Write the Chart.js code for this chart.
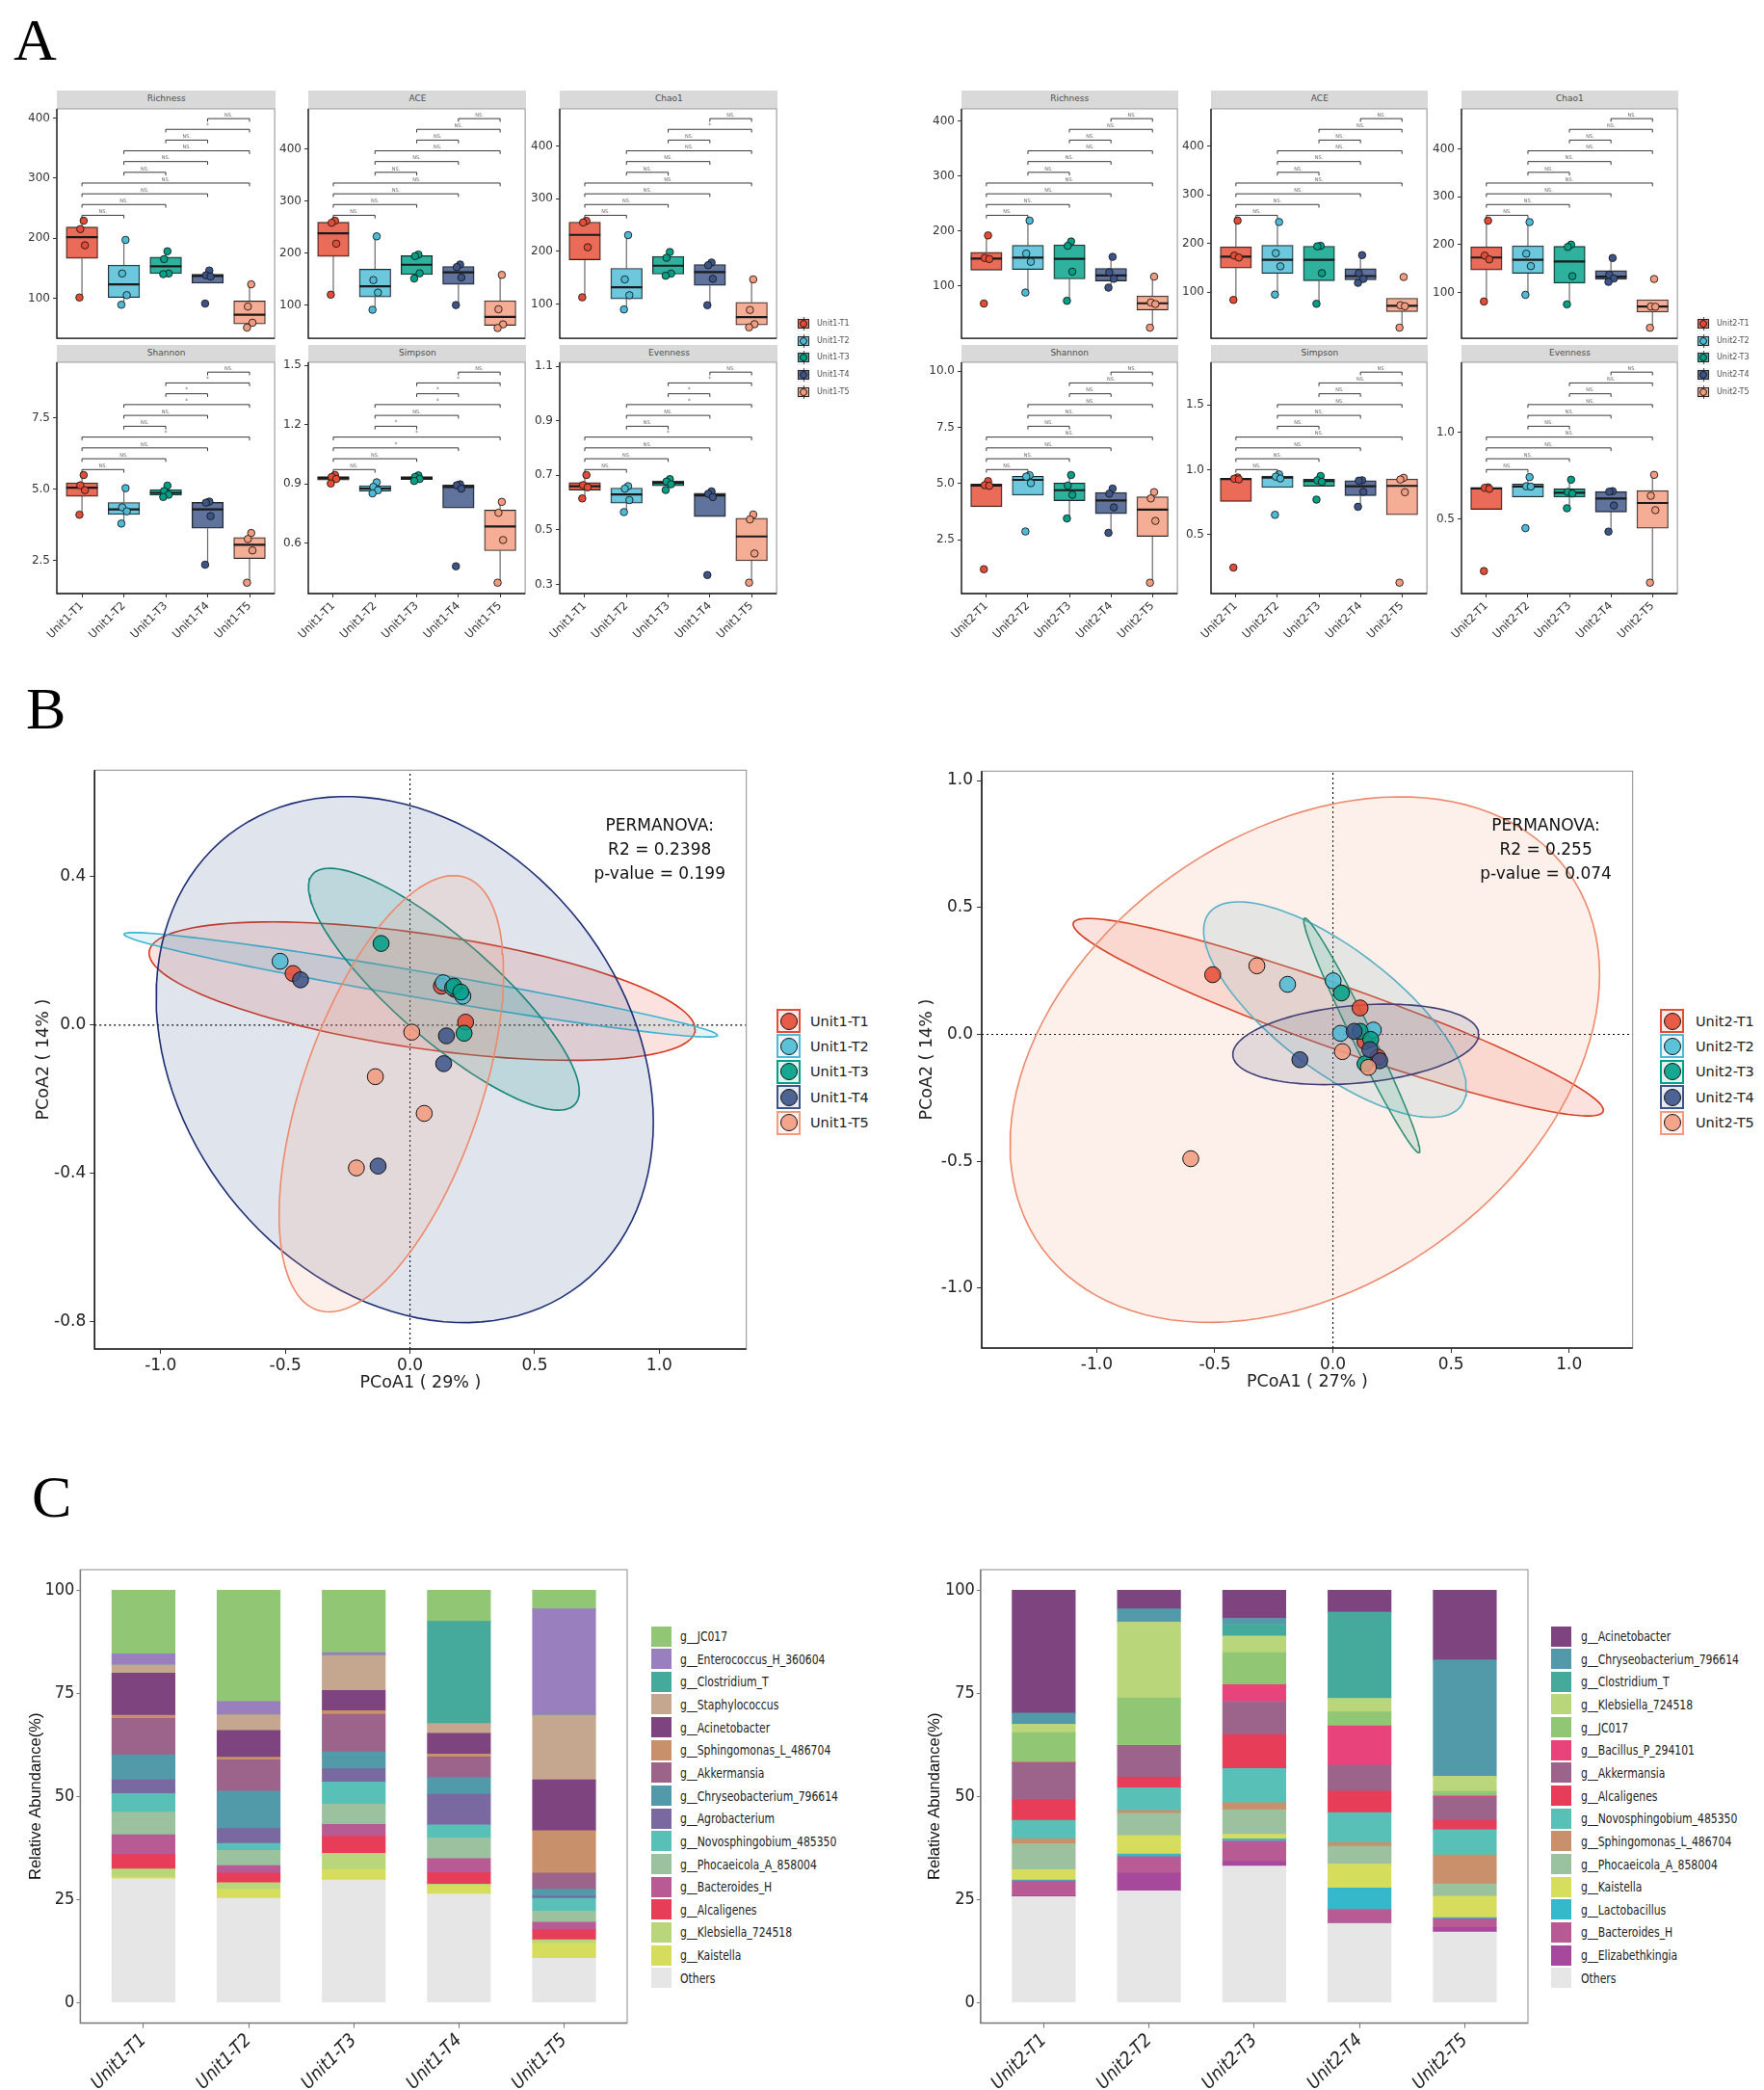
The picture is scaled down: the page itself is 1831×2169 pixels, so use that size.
<!DOCTYPE html>
<html>
<head>
<meta charset="utf-8">
<script src="https://cdn.jsdelivr.net/npm/chart.js@4.4.1/dist/chart.umd.min.js"></script>
<style>
  * { box-sizing: border-box; }
  body { margin: 0; background: #fff; }
  #page { position: relative; width: 1831px; height: 2169px; overflow: hidden; background: #fff; font-family: 'DejaVu Sans', sans-serif; }
  #page > * { position: absolute; }
  .strip { background: #D9D9D9; color: #4D4D4D; font-size: 9px; text-align: center; }
  .letter { font-family: 'Liberation Serif', 'Times New Roman', serif; font-size: 62px; line-height: 62px; color: #000; }
  .lbl { white-space: nowrap; }
</style>
</head>
<body>
<div id="page"></div>
<script>
// ---- data ----
const unit1Groups = ['Unit1-T1', 'Unit1-T2', 'Unit1-T3', 'Unit1-T4', 'Unit1-T5'];
const unit2Groups = ['Unit2-T1', 'Unit2-T2', 'Unit2-T3', 'Unit2-T4', 'Unit2-T5'];

// alpha diversity, 4 samples per group
const u1Richness = [[229, 215, 188, 101], [197, 141, 105, 89], [178, 165, 141, 140], [146, 138, 136, 91], [123, 86, 59, 51]];
const u1ACE = [[262, 258, 218, 120], [232, 148, 124, 91], [197, 194, 161, 151], [178, 173, 153, 100], [158, 92, 63, 56]];
const u1Chao1 = [[258, 255, 208, 113], [231, 147, 117, 90], [199, 188, 158, 154], [179, 174, 148, 98], [147, 89, 62, 56]];
const u1Shannon = [[5.49, 5.13, 4.96, 4.10], [5.03, 4.36, 4.22, 3.79], [5.12, 4.93, 4.80, 4.72], [4.56, 4.52, 4.05, 2.35], [3.46, 3.25, 2.85, 1.72]];
const u1Simpson = [[0.945, 0.935, 0.925, 0.902], [0.908, 0.885, 0.868, 0.852], [0.943, 0.935, 0.925, 0.915], [0.898, 0.893, 0.876, 0.483], [0.809, 0.754, 0.616, 0.40]];
const u1Evenness = [[0.701, 0.664, 0.656, 0.615], [0.66, 0.651, 0.609, 0.565], [0.686, 0.677, 0.667, 0.646], [0.641, 0.632, 0.62, 0.334], [0.556, 0.538, 0.413, 0.306]];

const u2Richness = [[192, 151, 149, 68], [219, 159, 144, 88], [181, 173, 126, 73], [153, 125, 113, 97], [117, 70, 67, 24]];
const u2ACE = [[247, 175, 171, 84], [244, 180, 153, 95], [195, 194, 139, 76], [176, 139, 127, 119], [131, 73, 71, 27]];
const u2Chao1 = [[250, 177, 169, 81], [247, 181, 155, 95], [200, 195, 134, 75], [172, 137, 129, 122], [128, 70.5, 70, 26]];
const u2Shannon = [[5.11, 4.93, 4.90, 1.19], [5.37, 5.31, 5.02, 2.87], [5.38, 4.91, 4.50, 3.45], [4.78, 4.55, 3.94, 2.81], [4.62, 4.34, 3.34, 0.59]];
const u2Simpson = [[0.94, 0.93, 0.925, 0.245], [0.964, 0.946, 0.932, 0.652], [0.951, 0.918, 0.906, 0.769], [0.918, 0.915, 0.829, 0.714], [0.937, 0.924, 0.826, 0.129]];
const u2Evenness = [[0.684, 0.681, 0.675, 0.20], [0.743, 0.69, 0.688, 0.448], [0.728, 0.657, 0.648, 0.563], [0.662, 0.659, 0.579, 0.428], [0.756, 0.635, 0.552, 0.133]];

// pairwise test labels, order: 1-2,1-3,1-4,1-5,2-3,2-4,2-5,3-4,3-5,4-5
const PAIRS = [[1, 2], [1, 3], [1, 4], [1, 5], [2, 3], [2, 4], [2, 5], [3, 4], [3, 5], [4, 5]];
const sigAllNS = ['NS.', 'NS.', 'NS.', 'NS.', 'NS.', 'NS.', 'NS.', 'NS.', 'NS.', 'NS.'];
const sigU1Richness = ['NS.', 'NS.', 'NS.', 'NS.', 'NS.', 'NS.', 'NS.', 'NS.', '*', 'NS.'];
const sigU1Chao1 = ['NS.', 'NS.', 'NS.', 'NS.', 'NS.', 'NS.', 'NS.', 'NS.', '*', 'NS.'];
const sigU1Shannon = ['NS.', 'NS.', 'NS.', '*', 'NS.', 'NS.', '*', '*', '*', 'NS.'];
const sigU1Simpson = ['NS.', 'NS.', '*', '*', '*', 'NS.', '*', '*', '*', 'NS.'];
const sigU1Evenness = ['NS.', 'NS.', 'NS.', '*', 'NS.', 'NS.', '*', '*', '*', 'NS.'];

// PCoA coordinates per group
const pcoa1X = [[-0.469, 0.223, 0.126, 0.18], [-0.521, 0.133, 0.171, 0.212], [-0.116, 0.176, 0.204, 0.217], [-0.439, 0.146, 0.135, -0.128], [0.007, -0.139, 0.057, -0.215]];
const pcoa1Y = [[0.139, 0.008, 0.105, 0.096], [0.172, 0.114, 0.101, 0.078], [0.22, 0.105, 0.089, -0.022], [0.122, -0.029, -0.104, -0.38], [-0.019, -0.139, -0.238, -0.385]];
const pcoa2X = [[-0.509, 0.115, 0.136, 0.19], [-0.192, 0.001, 0.032, 0.171], [0.036, 0.115, 0.136, 0.16], [0.09, 0.156, -0.14, 0.198], [-0.322, 0.04, 0.15, -0.602]];
const pcoa2Y = [[0.235, 0.104, -0.028, -0.09], [0.197, 0.211, 0.004, 0.017], [0.163, 0.012, -0.116, -0.02], [0.012, -0.06, -0.1, -0.104], [0.27, -0.068, -0.13, -0.49]];
// confidence ellipses: centre x, centre y, x half-extent, y half-extent, correlation
const ellipse1 = [[0.0485, 0.0915, 1.095, 0.1865, -0.55], [0.043, 0.1087, 1.19, 0.1407, -0.967], [0.136, 0.0967, 0.543, 0.326, -0.845], [-0.021, -0.093, 0.997, 0.709, -0.238], [-0.075, -0.185, 0.45, 0.588, 0.556]];
const ellipse2 = [[0.0225, 0.0675, 1.1225, 0.389, -0.942], [0.0085, 0.0975, 0.556, 0.4245, -0.733], [0.122, -0.004, 0.2456, 0.462, -0.981], [0.0965, -0.0395, 0.5205, 0.1585, 0.25], [-0.119, -0.0995, 1.248, 1.0355, 0.324]];

// relative abundance (%), legend order, columns T1..T5
const taxa1 = ['g__JC017', 'g__Enterococcus_H_360604', 'g__Clostridium_T', 'g__Staphylococcus', 'g__Acinetobacter', 'g__Sphingomonas_L_486704', 'g__Akkermansia', 'g__Chryseobacterium_796614', 'g__Agrobacterium', 'g__Novosphingobium_485350', 'g__Phocaeicola_A_858004', 'g__Bacteroides_H', 'g__Alcaligenes', 'g__Klebsiella_724518', 'g__Kaistella', 'Others'];
const abund1 = [
  [15.4, 27.0, 15.1, 7.5, 4.5],
  [2.7, 3.2, 0.7, 0, 25.8],
  [0, 0, 0, 24.8, 0],
  [2.0, 3.8, 8.5, 2.4, 15.7],
  [10.2, 6.5, 4.9, 5.0, 12.3],
  [0.8, 0.6, 0.9, 0.7, 10.3],
  [8.8, 7.6, 9.1, 5.0, 3.9],
  [6.1, 9.1, 4.1, 4.1, 1.7],
  [3.3, 3.6, 3.2, 7.4, 0.5],
  [4.5, 1.7, 5.4, 3.2, 3.1],
  [5.5, 3.7, 4.9, 5.0, 2.7],
  [4.8, 1.8, 2.9, 3.4, 1.9],
  [3.5, 2.3, 4.1, 2.8, 2.4],
  [1.9, 1.6, 4.0, 0.3, 0.8],
  [0.5, 2.2, 2.5, 2.1, 3.7],
  [30.0, 25.3, 29.7, 26.3, 10.7]
];
const taxa2 = ['g__Acinetobacter', 'g__Chryseobacterium_796614', 'g__Clostridium_T', 'g__Klebsiella_724518', 'g__JC017', 'g__Bacillus_P_294101', 'g__Akkermansia', 'g__Alcaligenes', 'g__Novosphingobium_485350', 'g__Sphingomonas_L_486704', 'g__Phocaeicola_A_858004', 'g__Kaistella', 'g__Lactobacillus', 'g__Bacteroides_H', 'g__Elizabethkingia', 'Others'];
const abund2 = [
  [29.8, 4.5, 6.8, 5.3, 16.9],
  [2.7, 3.2, 1.4, 0, 28.2],
  [0, 0, 2.9, 20.9, 0],
  [2.0, 18.4, 4.0, 3.3, 3.7],
  [7.2, 11.5, 7.8, 3.4, 1.1],
  [0.2, 0, 4.0, 9.5, 0.3],
  [8.9, 7.8, 8.1, 6.3, 5.6],
  [5.0, 2.5, 8.2, 5.2, 2.3],
  [4.5, 5.5, 8.3, 7.3, 6.1],
  [1.2, 0.7, 1.7, 0.9, 7.0],
  [6.3, 5.4, 6.0, 4.3, 3.0],
  [2.5, 4.5, 1.1, 5.8, 5.2],
  [0.2, 0.6, 0.5, 5.2, 0.3],
  [3.6, 4.0, 5.0, 3.2, 2.1],
  [0.2, 4.3, 1.1, 0.2, 1.1],
  [25.7, 27.1, 33.1, 19.2, 17.1]
];

// ---- styles ----
const PAL = ['#E64B35', '#4DBBD5', '#00A087', '#3C5488', '#F39B7F'];
const ELL_LINE = ['#D63A1F', '#3DB5D2', '#0E8E76', '#1F2F75', '#EE8A6C'];
const TAXA_COL = {
  'g__JC017': '#90C674', 'g__Enterococcus_H_360604': '#9A7FBF', 'g__Clostridium_T': '#45A99C',
  'g__Staphylococcus': '#C5A68F', 'g__Acinetobacter': '#7E4480', 'g__Sphingomonas_L_486704': '#C9916B',
  'g__Akkermansia': '#9C648B', 'g__Chryseobacterium_796614': '#5299A9', 'g__Agrobacterium': '#7A68A0',
  'g__Novosphingobium_485350': '#58C0B6', 'g__Phocaeicola_A_858004': '#9CC19E', 'g__Bacteroides_H': '#B85A93',
  'g__Alcaligenes': '#E73D58', 'g__Klebsiella_724518': '#B9D77A', 'g__Kaistella': '#D6DC5C',
  'g__Bacillus_P_294101': '#E8437B', 'g__Lactobacillus': '#35B8C9', 'g__Elizabethkingia': '#A6489B',
  'Others': '#E6E6E6'
};
const JIT = [0.04, -0.04, 0.07, -0.06];
const NARROW = "'Liberation Sans Narrow', 'DejaVu Sans Condensed', 'Liberation Sans', sans-serif";
const ROWS = [{ strip: [94.3, 111.7], top: 111.7, bottom: 351.7 }, { strip: [358.3, 375], top: 375, bottom: 615.7 }];

Chart.defaults.font.family = "'DejaVu Sans', sans-serif";
Chart.defaults.animation = false;
Chart.defaults.responsive = false;
Chart.defaults.plugins.legend.display = false;
Chart.defaults.plugins.tooltip.enabled = false;

const page = document.getElementById('page');
const px = v => v + 'px';
function el(tag, cls, css, text) {
  const e = document.createElement(tag);
  if (cls) e.className = cls;
  Object.assign(e.style, css);
  if (text !== undefined) e.textContent = text;
  page.appendChild(e);
  return e;
}
function rgba(hex, a) {
  const n = parseInt(hex.slice(1), 16);
  return `rgba(${n >> 16},${(n >> 8) & 255},${n & 255},${a})`;
}
function makeCanvas(left, top, w, h) {
  const c = el('canvas', '', { left: px(left), top: px(top) });
  c.width = Math.round(w);
  c.height = Math.round(h);
  return c;
}
function q7(s, p) {
  const h = (s.length - 1) * p, i = Math.floor(h);
  return s[i] + (h - i) * (s[Math.min(i + 1, s.length - 1)] - s[i]);
}
function boxStats(v) {
  const s = [...v].sort((a, b) => a - b);
  const q1 = q7(s, 0.25), med = q7(s, 0.5), q3 = q7(s, 0.75), iqr = q3 - q1;
  const inside = s.filter(x => x >= q1 - 1.5 * iqr && x <= q3 + 1.5 * iqr);
  return { q1, med, q3, lo: Math.min(...inside), hi: Math.max(...inside) };
}
const fixTicks = vals => scale => { scale.ticks = vals.map(v => ({ value: v })); };

// legend text in panel C is a condensed face; squeeze it if no narrow font is installed
const measure = document.createElement('canvas').getContext('2d');
measure.font = '14px ' + NARROW;
const narrowScale = Math.min(1, 164 / measure.measureText('g__Chryseobacterium_796614').width);

const frame = (axisCol, edgeCol, w) => ({
  id: 'frame',
  afterDatasetsDraw(chart) {
    const { ctx, chartArea: a } = chart;
    ctx.save();
    ctx.lineWidth = 1;
    ctx.strokeStyle = edgeCol;
    ctx.strokeRect(a.left, a.top, a.right - a.left, a.bottom - a.top);
    ctx.strokeStyle = axisCol;
    ctx.lineWidth = w;
    ctx.beginPath();
    ctx.moveTo(a.left, a.top);
    ctx.lineTo(a.left, a.bottom);
    ctx.lineTo(a.right, a.bottom);
    ctx.stroke();
    ctx.restore();
  }
});

const brackets = sig => ({
  id: 'brackets',
  afterDatasetsDraw(chart) {
    const { ctx, chartArea: a, scales: { x } } = chart;
    const h = a.bottom - a.top;
    ctx.save();
    ctx.strokeStyle = '#222';
    ctx.lineWidth = 0.9;
    ctx.fillStyle = '#666';
    ctx.textAlign = 'center';
    PAIRS.forEach(([i, j], k) => {
      const y = a.bottom - h * (0.536 + 0.0468 * k);
      const xa = x.getPixelForValue(i), xb = x.getPixelForValue(j);
      ctx.beginPath();
      ctx.moveTo(xa, y + 3.3); ctx.lineTo(xa, y); ctx.lineTo(xb, y); ctx.lineTo(xb, y + 3.3);
      ctx.stroke();
      ctx.font = sig[k] === '*' ? "6px 'DejaVu Sans'" : "5px 'DejaVu Sans'";
      ctx.fillText(sig[k], (xa + xb) / 2, y - 2.2);
    });
    ctx.restore();
  }
});

// ---- panel A: boxplots ----
function boxFacet(x0, x1, row, title, groups, vals, yMin, yMax, yTicks, dec, sig) {
  const R = ROWS[row];
  const L = 44, RR = 4, T = 4, B = row ? 62 : 4;
  el('div', 'strip', { left: px(x0), top: px(R.strip[0]), width: px(x1 - x0), height: px(R.strip[1] - R.strip[0]), lineHeight: px(R.strip[1] - R.strip[0]) }, title);
  const cv = makeCanvas(x0 - L, R.top - T, x1 - x0 + L + RR, R.bottom - R.top + T + B);
  const unit = (x1 - x0) / 5.2;
  const st = vals.map(boxStats);
  const whisk = [], med = [], pts = [], ptCol = [];
  st.forEach((s, i) => {
    const x = i + 1;
    whisk.push({ x, y: Math.max(s.hi, s.q3) }, { x, y: s.q3 }, { x, y: null }, { x, y: Math.min(s.lo, s.q1) }, { x, y: s.q1 }, { x, y: null });
    med.push({ x: x - 0.375, y: s.med }, { x: x + 0.375, y: s.med }, { x: x + 0.375, y: null });
  });
  vals.forEach((arr, i) => arr.forEach((v, j) => { pts.push({ x: i + 1 + JIT[j], y: v }); ptCol.push(PAL[i]); }));
  new Chart(cv, {
    type: 'bar',
    data: {
      datasets: [
        { type: 'line', data: whisk, borderColor: '#6b6b6b', borderWidth: 1.2, pointRadius: 0, order: 4 },
        { type: 'bar', data: st.map((s, i) => ({ x: i + 1, y: [s.q1, s.q3] })), backgroundColor: PAL.map(c => rgba(c, 0.82)), borderColor: '#262626', borderWidth: 1, borderSkipped: false, barThickness: unit * 0.75, order: 3 },
        { type: 'line', data: med, borderColor: '#1a1a1a', borderWidth: 2.2, pointRadius: 0, order: 2 },
        { type: 'line', data: pts, showLine: false, pointRadius: 3.8, pointBackgroundColor: ptCol, pointBorderColor: '#1a1a1a', pointBorderWidth: 0.9, order: 1 }
      ]
    },
    options: {
      layout: { padding: { left: 0, top: T, right: RR, bottom: 0 } },
      scales: {
        x: {
          type: 'linear', min: 0.4, max: 5.6, offset: false,
          afterBuildTicks: fixTicks([1, 2, 3, 4, 5]),
          ticks: { display: row === 1, autoSkip: false, minRotation: 45, maxRotation: 45, padding: 2, color: '#333', font: { size: 11.5 }, callback: v => groups[v - 1] },
          grid: { display: row === 1, drawOnChartArea: false, tickLength: 4, color: '#333', offset: false },
          border: { display: false },
          afterFit: s => { s.height = B; s.paddingLeft = 0; s.paddingRight = 0; }
        },
        y: {
          min: yMin, max: yMax,
          afterBuildTicks: fixTicks(yTicks),
          ticks: { padding: 3, color: '#333', font: { size: 12 }, callback: v => v.toFixed(dec) },
          grid: { drawOnChartArea: false, tickLength: 4, color: '#333' },
          border: { display: false },
          afterFit: s => { s.width = L; s.paddingTop = 0; s.paddingBottom = 0; }
        }
      }
    },
    plugins: [frame('#1a1a1a', '#8c8c8c', 1.3), brackets(sig)]
  });
}

function legendA(xKey, xText, groups) {
  groups.forEach((g, i) => {
    const cy = 336 + i * 17.7;
    el('div', '', { left: px(xKey - 7), top: px(cy - 7.5), width: '14px', height: '15px', background: '#F2F2F2' });
    el('div', '', { left: px(xKey - 0.5), top: px(cy - 7), width: '1px', height: '14px', background: '#555' });
    el('div', '', { left: px(xKey - 6), top: px(cy - 5), width: '12px', height: '10px', background: rgba(PAL[i], 0.82), border: '1px solid #262626' });
    el('div', '', { left: px(xKey - 4), top: px(cy - 4), width: '8px', height: '8px', borderRadius: '50%', background: PAL[i], border: '1px solid #1a1a1a' });
    el('div', 'lbl', { left: px(xText), top: px(cy - 6), fontSize: '8px', lineHeight: '12px', color: '#4D4D4D' }, g);
  });
}

const U1C = [[59.3, 286], [320.4, 546.4], [581.4, 807.5]];
const U2C = [[997.7, 1222.7], [1257.4, 1482.3], [1516.8, 1742]];
const T100 = [100, 200, 300, 400];
boxFacet(U1C[0][0], U1C[0][1], 0, 'Richness', unit1Groups, u1Richness, 33.1, 415.4, T100, 0, sigU1Richness);
boxFacet(U1C[1][0], U1C[1][1], 0, 'ACE', unit1Groups, u1ACE, 36.2, 477, T100, 0, sigAllNS);
boxFacet(U1C[2][0], U1C[2][1], 0, 'Chao1', unit1Groups, u1Chao1, 35.2, 470.8, T100, 0, sigU1Chao1);
boxFacet(U1C[0][0], U1C[0][1], 1, 'Shannon', unit1Groups, u1Shannon, 1.34, 9.44, [2.5, 5.0, 7.5], 1, sigU1Shannon);
boxFacet(U1C[1][0], U1C[1][1], 1, 'Simpson', unit1Groups, u1Simpson, 0.345, 1.516, [0.6, 0.9, 1.2, 1.5], 1, sigU1Simpson);
boxFacet(U1C[2][0], U1C[2][1], 1, 'Evenness', unit1Groups, u1Evenness, 0.266, 1.115, [0.3, 0.5, 0.7, 0.9, 1.1], 1, sigU1Evenness);
boxFacet(U2C[0][0], U2C[0][1], 0, 'Richness', unit2Groups, u2Richness, 4.7, 422.6, T100, 0, sigAllNS);
boxFacet(U2C[1][0], U2C[1][1], 0, 'ACE', unit2Groups, u2ACE, 5.1, 476.6, T100, 0, sigAllNS);
boxFacet(U2C[2][0], U2C[2][1], 0, 'Chao1', unit2Groups, u2Chao1, 4, 484, T100, 0, sigAllNS);
boxFacet(U2C[0][0], U2C[0][1], 1, 'Shannon', unit2Groups, u2Shannon, 0.107, 10.4, [2.5, 5.0, 7.5, 10.0], 1, sigAllNS);
boxFacet(U2C[1][0], U2C[1][1], 1, 'Simpson', unit2Groups, u2Simpson, 0.045, 1.828, [0.5, 1.0, 1.5], 1, sigAllNS);
boxFacet(U2C[2][0], U2C[2][1], 1, 'Evenness', unit2Groups, u2Evenness, 0.07, 1.407, [0.5, 1.0], 1, sigAllNS);
legendA(834, 848, unit1Groups);
legendA(1768, 1782, unit2Groups);

// ---- panel B: PCoA ----
function ellipsePoints(e) {
  const [cx, cy, ex, ey, r] = e, s = Math.sqrt(1 - r * r), out = [];
  for (let k = 0; k <= 120; k++) {
    const t = k / 120 * 2 * Math.PI;
    out.push({ x: cx + ex * Math.cos(t), y: cy + ey * (r * Math.cos(t) + s * Math.sin(t)) });
  }
  return out;
}
function pcoaChart(o) {
  const T = 8, RR = 6, B = 52;
  const cv = makeCanvas(o.x0 - o.L, o.y0 - T, o.x1 - o.x0 + o.L + RR, o.y1 - o.y0 + T + B);
  const ds = [
    { data: [{ x: o.xMin, y: 0 }, { x: o.xMax, y: 0 }], showLine: true, borderColor: '#000', borderWidth: 1.1, borderDash: [2, 3], pointRadius: 0, order: 30 },
    { data: [{ x: 0, y: o.yMin }, { x: 0, y: o.yMax }], showLine: true, borderColor: '#000', borderWidth: 1.1, borderDash: [2, 3], pointRadius: 0, order: 30 }
  ];
  o.ells.forEach((e, i) => ds.push({ data: ellipsePoints(e), showLine: true, fill: 'shape', backgroundColor: rgba(PAL[i], 0.16), borderColor: ELL_LINE[i], borderWidth: 1.6, pointRadius: 0, order: 20 - i }));
  o.xs.forEach((xs, i) => ds.push({ data: xs.map((x, j) => ({ x, y: o.ys[i][j] })), showLine: false, pointRadius: 8.3, pointBackgroundColor: rgba(PAL[i], 0.85), pointBorderColor: '#111', pointBorderWidth: 1, order: 5 - i }));
  new Chart(cv, {
    type: 'scatter',
    data: { datasets: ds },
    options: {
      layout: { padding: { left: 0, top: T, right: RR, bottom: 0 } },
      scales: {
        x: {
          type: 'linear', min: o.xMin, max: o.xMax,
          afterBuildTicks: fixTicks([-1, -0.5, 0, 0.5, 1]),
          ticks: { padding: 2, color: '#222', font: { size: 17 }, callback: v => v.toFixed(1) },
          grid: { drawOnChartArea: false, tickLength: 5, color: '#333' },
          border: { display: false },
          title: { display: true, text: o.xTitle, color: '#222', font: { size: 17.5 }, padding: { top: 0, bottom: 5.8 } },
          afterFit: s => { s.height = B; s.paddingLeft = 0; s.paddingRight = 0; }
        },
        y: {
          min: o.yMin, max: o.yMax,
          afterBuildTicks: fixTicks(o.yTicks),
          ticks: { padding: 4, color: '#222', font: { size: 17 }, callback: v => v.toFixed(1) },
          grid: { drawOnChartArea: false, tickLength: 5, color: '#333' },
          border: { display: false },
          title: { display: true, text: 'PCoA2 ( 14% )', color: '#222', font: { size: 17.5 }, padding: { top: o.yPad, bottom: 0 } },
          afterFit: s => { s.width = o.L; s.paddingTop = 0; s.paddingBottom = 0; }
        }
      }
    },
    plugins: [frame('#1a1a1a', '#8c8c8c', 1.6)]
  });
  el('div', '', { left: px(o.statX - 110), top: px(843.5), width: '220px', textAlign: 'center', fontSize: '17px', lineHeight: '25px', color: '#111' }).innerHTML = 'PERMANOVA:<br>' + o.stats[0] + '<br>' + o.stats[1];
}
function legendB(xKey, xText, groups) {
  groups.forEach((g, i) => {
    const cy = 1059.5 + i * 26.4;
    el('div', '', { left: px(xKey), top: px(cy - 12.5), width: '25px', height: '25px', border: '2px solid ' + PAL[i], background: rgba(PAL[i], 0.12) });
    el('div', '', { left: px(xKey + 3.5), top: px(cy - 9), width: '18px', height: '18px', borderRadius: '50%', background: rgba(PAL[i], 0.9), border: '1px solid #111' });
    el('div', 'lbl', { left: px(xText), top: px(cy - 10), fontSize: '14.5px', lineHeight: '20px', color: '#222' }, g);
  });
}
pcoaChart({ x0: 98.2, x1: 777.8, y0: 798.4, y1: 1400.3, L: 70.2, yPad: 6.5, xMin: -1.265, xMax: 1.349, yMin: -0.873, yMax: 0.687, yTicks: [-0.8, -0.4, 0, 0.4], xs: pcoa1X, ys: pcoa1Y, ells: ellipse1, xTitle: 'PCoA1 ( 29% )', statX: 684.7, stats: ['R2 = 0.2398', 'p-value = 0.199'] });
pcoaChart({ x0: 1018.9, x1: 1697.4, y0: 799.3, y1: 1399.4, L: 70, yPad: 3.4, xMin: -1.487, xMax: 1.269, yMin: -1.236, yMax: 1.037, yTicks: [-1, -0.5, 0, 0.5, 1], xs: pcoa2X, ys: pcoa2Y, ells: ellipse2, xTitle: 'PCoA1 ( 27% )', statX: 1604.6, stats: ['R2 = 0.255', 'p-value = 0.074'] });
legendB(806, 841, unit1Groups);
legendB(1723, 1760, unit2Groups);

// ---- panel C: stacked bars ----
function barChart(o) {
  const T = 8, RR = 6;
  const top = o.y0 - T, B = 2169 - o.y1;
  const cv = makeCanvas(o.x0 - o.L, top, o.x1 - o.x0 + o.L + RR, 2169 - top);
  const unit = (o.x1 - o.x0) / 5.2;
  const ds = [];
  for (let k = o.taxa.length - 1; k >= 0; k--) {
    ds.push({ label: o.taxa[k], data: o.abund[k].map((v, i) => ({ x: i + 1, y: v })), backgroundColor: TAXA_COL[o.taxa[k]], borderWidth: 0, barThickness: unit * 0.6 });
  }
  new Chart(cv, {
    type: 'bar',
    data: { datasets: ds },
    options: {
      layout: { padding: { left: 0, top: T, right: RR, bottom: 0 } },
      scales: {
        x: {
          type: 'linear', stacked: true, min: 0.4, max: 5.6, offset: false,
          afterBuildTicks: fixTicks([1, 2, 3, 4, 5]),
          ticks: { autoSkip: false, minRotation: 45, maxRotation: 45, padding: 2, color: '#222', font: { family: NARROW, size: 19, style: 'italic' }, callback: v => o.groups[v - 1] },
          grid: { drawOnChartArea: false, tickLength: 5, color: '#777', offset: false },
          border: { display: false },
          afterFit: s => { s.height = B; s.paddingLeft = 0; s.paddingRight = 0; }
        },
        y: {
          stacked: true, min: -5, max: 105,
          afterBuildTicks: fixTicks([0, 25, 50, 75, 100]),
          ticks: { padding: 2, color: '#222', font: { family: NARROW, size: 18 } },
          grid: { drawOnChartArea: false, tickLength: 4, color: '#777' },
          border: { display: false },
          title: { display: true, text: 'Relative Abundance(%)', color: '#111', font: { family: "'Liberation Sans', sans-serif", size: 16.5 }, padding: { top: o.yPad, bottom: 0 } },
          afterFit: s => { s.width = o.L; s.paddingTop = 0; s.paddingBottom = 0; }
        }
      }
    },
    plugins: [frame('#7a7a7a', '#8c8c8c', 1.5)]
  });
  o.taxa.forEach((t, k) => {
    const cy = 1698 + k * 23.65;
    el('div', '', { left: px(o.keyX), top: px(cy - 10.5), width: '21px', height: '21px', background: TAXA_COL[t] });
    el('div', 'lbl', { left: px(o.textX), top: px(cy - 9), fontFamily: NARROW, fontSize: '14px', lineHeight: '18px', color: '#222', transform: `scaleX(${narrowScale})`, transformOrigin: 'left center' }, t);
  });
}
barChart({ x0: 83.4, x1: 651.3, y0: 1629, y1: 2099.6, L: 63.4, yPad: 7.2, groups: unit1Groups, taxa: taxa1, abund: abund1, keyX: 675.5, textX: 705.8 });
barChart({ x0: 1017.8, x1: 1586, y0: 1629, y1: 2099.6, L: 62.8, yPad: 5.2, groups: unit2Groups, taxa: taxa2, abund: abund2, keyX: 1610, textX: 1640.5 });

// ---- panel letters ----
el('div', 'letter', { left: '14px', top: '10px' }, 'A');
el('div', 'letter', { left: '27px', top: '704px' }, 'B');
el('div', 'letter', { left: '33px', top: '1522px' }, 'C');
</script>
</body>
</html>
